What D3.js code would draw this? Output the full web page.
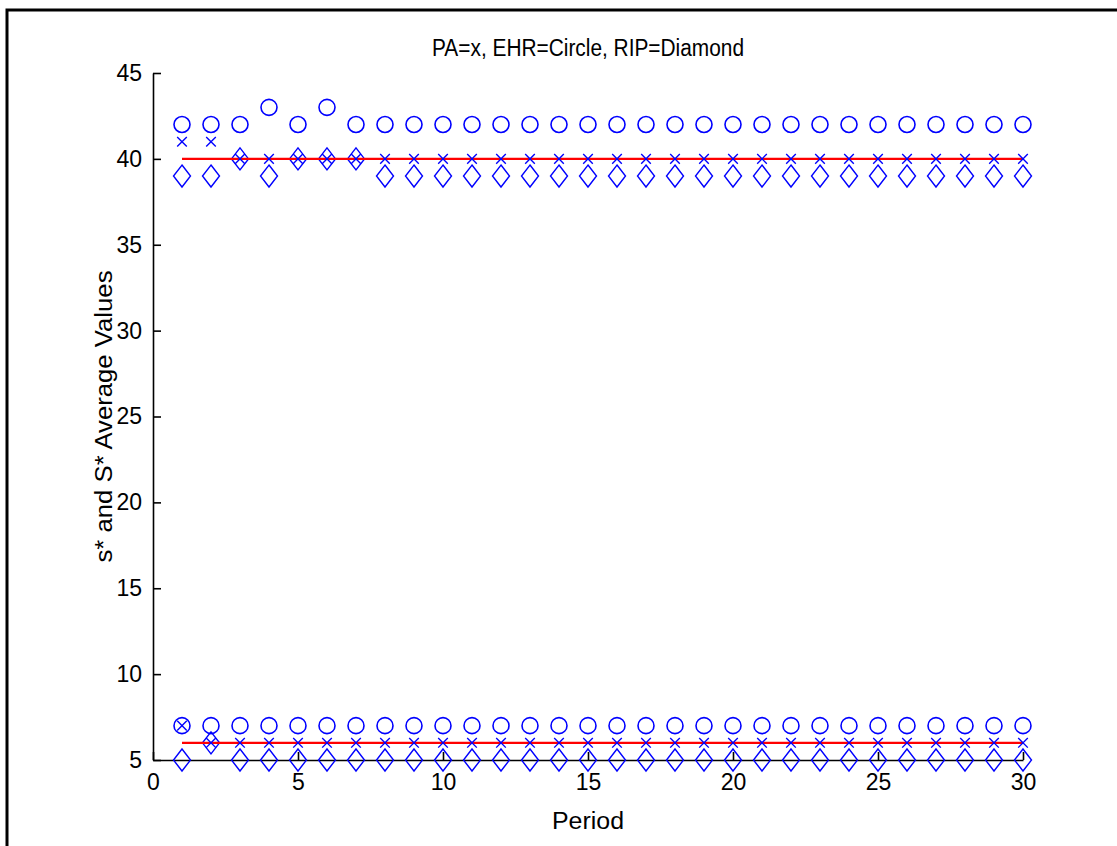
<!DOCTYPE html>
<html>
<head>
<meta charset="utf-8">
<script src="https://cdn.jsdelivr.net/npm/d3@7"></script>
<style>
  html, body { margin: 0; padding: 0; background: #fff; }
  svg { display: block; }
  text { font-family: "Liberation Sans", Arial, Helvetica, sans-serif; fill: #000; }
</style>
</head>
<body>
<svg id="chart" width="1117" height="846"></svg>
<script>
// ---- data ----
const periods = d3.range(1, 31);
// upper group (s*)
const paUpper  = [41,41,40,40,40,40,40,40,40,40,40,40,40,40,40,40,40,40,40,40,40,40,40,40,40,40,40,40,40,40];
const ehrUpper = [42,42,42,43,42,43,42,42,42,42,42,42,42,42,42,42,42,42,42,42,42,42,42,42,42,42,42,42,42,42];
const ripUpper = [39,39,40,39,40,40,40,39,39,39,39,39,39,39,39,39,39,39,39,39,39,39,39,39,39,39,39,39,39,39];
// lower group (S*)
const paLower  = [7,6,6,6,6,6,6,6,6,6,6,6,6,6,6,6,6,6,6,6,6,6,6,6,6,6,6,6,6,6];
const ehrLower = [7,7,7,7,7,7,7,7,7,7,7,7,7,7,7,7,7,7,7,7,7,7,7,7,7,7,7,7,7,7];
const ripLower = [5,6,5,5,5,5,5,5,5,5,5,5,5,5,5,5,5,5,5,5,5,5,5,5,5,5,5,5,5,5];
// reference (equilibrium) lines
const refLines = [40, 6];
const refRange = [1, 30];
const xTicks = [0,5,10,15,20,25,30];
const yTicks = [5,10,15,20,25,30,35,40,45];
const titleText = "PA=x, EHR=Circle, RIP=Diamond";
const xLabel = "Period";
const yLabel = "s* and S* Average Values";

// ---- layout ----
const svg = d3.select("#chart");
const L = 153, R = 1023, T = 73, B = 760;
const x = d3.scaleLinear().domain([0, 30]).range([L, R]);
const y = d3.scaleLinear().domain([5, 45]).range([B, T]);
const blue = "#0000ff";
const fs = 23;

// frame
svg.append("rect").attr("x", 7).attr("y", 10).attr("width", 1300).attr("height", 1000)
  .attr("fill", "#fff").attr("stroke", "#000").attr("stroke-width", 3);

// axes
const yAxis = svg.append("g").attr("transform", `translate(${L},0)`)
  .call(d3.axisLeft(y).tickValues(yTicks).tickSizeInner(-8).tickSizeOuter(0).tickPadding(11));
const xAxis = svg.append("g").attr("transform", `translate(0,${B})`)
  .call(d3.axisBottom(x).tickValues(xTicks).tickSizeInner(-8).tickSizeOuter(0).tickPadding(13.5));
[xAxis, yAxis].forEach(g => {
  g.selectAll("path, line").attr("stroke", "#000").attr("stroke-width", 1.6);
  g.selectAll("text").attr("font-size", fs).attr("fill", "#000")
    .style("font-family", '"Liberation Sans", Arial, sans-serif');
});

// markers
function circles(vals) {
  svg.append("g").selectAll("circle").data(periods).join("circle")
    .attr("cx", p => x(p)).attr("cy", (p, i) => y(vals[i])).attr("r", 8)
    .attr("stroke", blue).attr("stroke-width", 1.6).attr("fill", "none");
}
function diamonds(vals) {
  const w = 8.5, h = 11;
  svg.append("g").selectAll("path").data(periods).join("path")
    .attr("d", (p, i) => {
      const cx = x(p), cy = y(vals[i]);
      return `M${cx},${cy - h}L${cx + w},${cy}L${cx},${cy + h}L${cx - w},${cy}Z`;
    })
    .attr("stroke", blue).attr("stroke-width", 1.4).attr("fill", "none");
}
function crosses(vals) {
  const s = 4.8;
  svg.append("g").selectAll("path").data(periods).join("path")
    .attr("d", (p, i) => {
      const cx = x(p), cy = y(vals[i]);
      return `M${cx - s},${cy - s}L${cx + s},${cy + s}M${cx - s},${cy + s}L${cx + s},${cy - s}`;
    })
    .attr("stroke", blue).attr("stroke-width", 1.4).attr("fill", "none");
}
circles(ehrUpper); circles(ehrLower);
diamonds(ripUpper); diamonds(ripLower);

// reference lines
svg.append("g").selectAll("line").data(refLines).join("line")
  .attr("x1", x(refRange[0])).attr("x2", x(refRange[1]))
  .attr("y1", d => y(d)).attr("y2", d => y(d))
  .attr("stroke", "#ff0000").attr("stroke-width", 2.2);

crosses(paUpper); crosses(paLower);

// labels
svg.append("text").attr("x", (L + R) / 2).attr("y", 56).attr("text-anchor", "middle")
  .attr("font-size", fs).attr("textLength", 312).attr("lengthAdjust", "spacingAndGlyphs")
  .text(titleText);
svg.append("text").attr("x", (L + R) / 2).attr("y", 829).attr("text-anchor", "middle")
  .attr("font-size", fs).attr("textLength", 72).attr("lengthAdjust", "spacingAndGlyphs")
  .text(xLabel);
svg.append("text").attr("transform", `translate(112,${(T + B) / 2}) rotate(-90)`)
  .attr("text-anchor", "middle").attr("font-size", fs)
  .attr("textLength", 292).attr("lengthAdjust", "spacingAndGlyphs")
  .text(yLabel);
</script>
</body>
</html>
